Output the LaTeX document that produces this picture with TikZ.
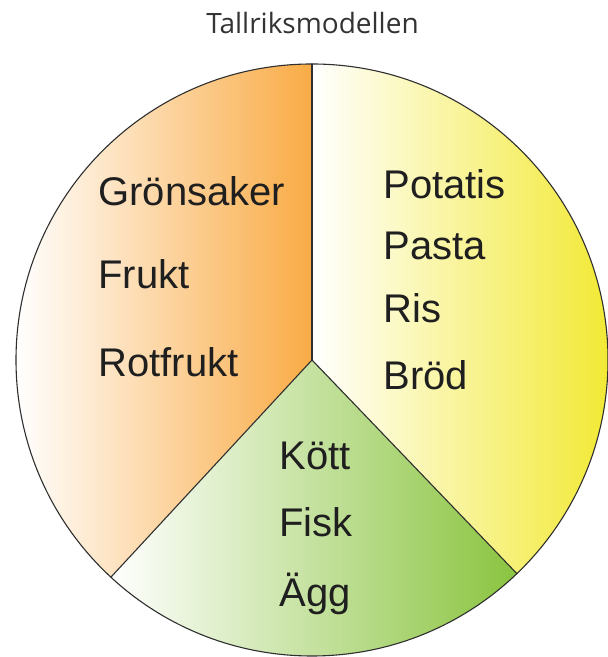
\documentclass[tikz,border=0pt]{standalone}
\usepackage{fontspec}
\setmainfont{Liberation Sans}
\newfontfamily\titlefont{Open Sans}
\usepackage{tikz}
\definecolor{plateorange}{HTML}{F9AB45}
\definecolor{plateyellow}{HTML}{F2E935}
\definecolor{plategreen}{HTML}{8AC43F}
\definecolor{plateline}{HTML}{2F2F2F}
\definecolor{titlegray}{HTML}{333333}
\tikzset{
every picture/.style={line cap=round,line join=round},
plate edge/.style={draw=plateline, line width=0.55pt},
food label/.style={anchor=base west, inner sep=0pt, font=\fontsize{20}{24}\selectfont, text=black!88},
title label/.style={anchor=base, inner sep=0pt, font=\titlefont\fontsize{14}{17}\selectfont, text=titlegray}
}

\begin{document}
\begin{tikzpicture}[x=0.5pt,y=0.5pt]
\useasboundingbox (0,0) rectangle (608,657);
\fill[white] (0,0) rectangle (608,657);
\def\platerad{296}
\coordinate (mid) at (312,297);
\path (mid) ++(90:\platerad) coordinate (topend);
\path (mid) ++(227.2:\platerad) coordinate (leftend);
\path (mid) ++(-46.2:\platerad) coordinate (rightend);
% the three parts of the plate
\shade[left color=white,right color=plateorange] (mid) -- (topend)
  arc[start angle=90,end angle=180,radius=\platerad]
  arc[start angle=180,end angle=227.2,radius=\platerad] -- cycle;
\shade[left color=white,right color=plateyellow] (mid) -- (rightend)
  arc[start angle=-46.2,end angle=0,radius=\platerad]
  arc[start angle=0,end angle=90,radius=\platerad] -- cycle;
\shade[left color=white,right color=plategreen] (mid) -- (leftend)
  arc[start angle=227.2,end angle=270,radius=\platerad]
  arc[start angle=270,end angle=313.8,radius=\platerad] -- cycle;
\draw[plate edge] (mid) circle[radius=\platerad];
\draw[plate edge] (mid) -- (topend);
\draw[plate edge] (mid) -- (leftend);
\draw[plate edge] (mid) -- (rightend);
% labels
\node[title label] (title) at (312.5,623) {Tallriksmodellen};
\node[food label] (veg) at (98,451) {Grönsaker};
\node[food label] (fruit) at (98,368) {Frukt};
\node[food label] (roots) at (98,280) {Rotfrukt};
\node[food label] (potato) at (383,458) {Potatis};
\node[food label] (pasta) at (383,397) {Pasta};
\node[food label] (rice) at (383,334) {Ris};
\node[food label] (bread) at (383,267) {Bröd};
\node[food label] (meat) at (279,187) {Kött};
\node[food label] (fish) at (279,120) {Fisk};
\node[food label] (egg) at (279,50) {Ägg};
\end{tikzpicture}
\end{document}
